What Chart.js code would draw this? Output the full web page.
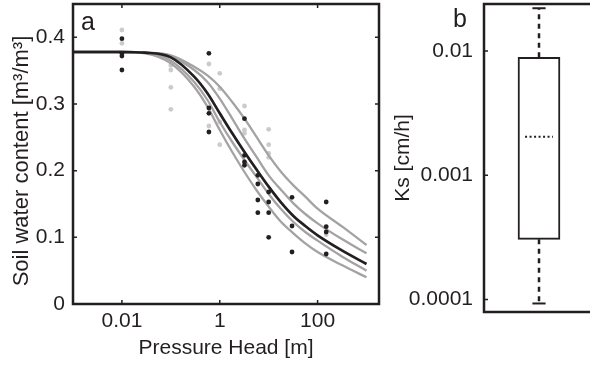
<!DOCTYPE html>
<html>
<head>
<meta charset="utf-8">
<script src="https://cdn.jsdelivr.net/npm/chart.js@4"></script>
<style>
  html, body { margin: 0; padding: 0; background: #fff; overflow: hidden; }
  #wrap { position: relative; width: 590px; height: 372px; overflow: hidden; }
  canvas { position: absolute; top: 0; }
  #chartA { left: 0; }
  #chartB { left: 385px; }
</style>
</head>
<body>
<div id="wrap">
  <canvas id="chartA" width="385" height="372"></canvas>
  <canvas id="chartB" width="215" height="372"></canvas>
</div>
<script>
// ---- panel a : water retention ----
const curveHead = [0.001, 0.01, 0.03, 0.1, 0.3, 0.56, 1, 1.8, 3.2, 5.6, 10, 18, 32, 56, 100, 320, 1000];
const fitMain = [0.378, 0.378, 0.377, 0.370, 0.341, 0.316, 0.286, 0.256, 0.228, 0.202, 0.176, 0.152, 0.132, 0.117, 0.103, 0.080, 0.060];
const fitGrayA = [0.378, 0.378, 0.377, 0.373, 0.356, 0.343, 0.326, 0.303, 0.278, 0.251, 0.223, 0.198, 0.178, 0.161, 0.143, 0.116, 0.0885];
const fitGrayB = [0.378, 0.378, 0.377, 0.371, 0.351, 0.333, 0.308, 0.278, 0.248, 0.221, 0.193, 0.171, 0.151, 0.135, 0.121, 0.097, 0.076];
const fitGrayC = [0.378, 0.378, 0.377, 0.365, 0.333, 0.306, 0.273, 0.243, 0.216, 0.191, 0.165, 0.142, 0.123, 0.108, 0.095, 0.071, 0.050];
const fitGrayD = [0.378, 0.378, 0.376, 0.361, 0.326, 0.296, 0.261, 0.228, 0.198, 0.171, 0.146, 0.123, 0.106, 0.091, 0.078, 0.058, 0.040];

const obsHeadDark = [0.01, 0.01, 0.01, 0.01, 0.6, 0.6, 0.6, 0.6, 3.2, 3.2, 3.2, 3.2, 6, 6, 6, 6, 10, 10, 10, 10, 30, 30, 30, 150, 150, 150, 150];
const obsThetaDark = [0.398, 0.376, 0.372, 0.351, 0.376, 0.294, 0.286, 0.258, 0.278, 0.223, 0.213, 0.208, 0.193, 0.180, 0.156, 0.137, 0.168, 0.153, 0.137, 0.100, 0.160, 0.117, 0.078, 0.153, 0.116, 0.108, 0.075];
const obsHeadLight = [0.01, 0.01, 0.1, 0.1, 0.1, 0.1, 0.6, 0.6, 1, 1, 1, 1, 3.2, 3.2, 3.2, 10, 10, 10, 10, 150];
const obsThetaLight = [0.411, 0.391, 0.358, 0.351, 0.325, 0.292, 0.360, 0.267, 0.346, 0.323, 0.273, 0.239, 0.297, 0.261, 0.256, 0.262, 0.239, 0.226, 0.220, 0.104];

const headTicks = [0.01, 1, 100];
const thetaTicks = [0, 0.1, 0.2, 0.3, 0.4];

// ---- panel b : Ks box plot ----
const ksLow = 0.000093;
const ksQ1 = 0.000305;
const ksMedian = 0.00204;
const ksQ3 = 0.0089;
const ksHigh = 0.0221;
const ksTicks = [0.0001, 0.001, 0.01];

const INK = '#231f20';
const GRAY = '#a3a3a3';
const LIGHT = '#cbcbcb';
const FONT = 'Liberation Sans, Arial, sans-serif';

const pts = (xs, ys) => xs.map((x, i) => ({x: x, y: ys[i]}));

// frame + inward tick marks + panel letter (+ optional rotated y title)
const framePlugin = {
  id: 'frame',
  afterDraw(chart, args, opts) {
    const {ctx, chartArea: a} = chart;
    ctx.save();
    ctx.strokeStyle = INK;
    ctx.lineWidth = 2.5;
    ctx.strokeRect(a.left, a.top, a.right - a.left, a.bottom - a.top);
    ctx.lineWidth = 1.5;
    Object.values(chart.scales).forEach(s => {
      if (!s.options.display) return;
      s.ticks.forEach(t => {
        const p = s.getPixelForValue(t.value);
        ctx.beginPath();
        if (s.isHorizontal()) {
          ctx.moveTo(p, a.bottom); ctx.lineTo(p, a.bottom - 4);
          ctx.moveTo(p, a.top); ctx.lineTo(p, a.top + 4);
        } else {
          ctx.moveTo(a.left, p); ctx.lineTo(a.left + 4, p);
          ctx.moveTo(a.right, p); ctx.lineTo(a.right - 4, p);
        }
        ctx.stroke();
      });
    });
    ctx.fillStyle = INK;
    ctx.font = '25px ' + FONT;
    ctx.textBaseline = 'alphabetic';
    ctx.fillText(opts.letter, opts.lx, opts.ly);
    if (opts.yTitle) {
      ctx.translate(opts.tx, opts.ty);
      ctx.rotate(-Math.PI / 2);
      ctx.font = opts.tSize + 'px ' + FONT;
      ctx.textAlign = 'center';
      ctx.textBaseline = 'middle';
      ctx.fillText(opts.yTitle, 0, 0);
    }
    ctx.restore();
  }
};

// keep tick labels from pushing the plot area around
const noPad = s => { s.paddingTop = 0; s.paddingBottom = 0; s.paddingLeft = 0; s.paddingRight = 0; };

const tickFont = {family: FONT, size: 21};

new Chart(document.getElementById('chartA'), {
  type: 'line',
  data: {
    datasets: [
      {type: 'scatter', data: pts(obsHeadDark, obsThetaDark), pointRadius: 2.4, pointBackgroundColor: INK, pointBorderWidth: 0, order: 0},
      {data: pts(curveHead, fitMain), borderColor: INK, borderWidth: 2.7, pointRadius: 0, cubicInterpolationMode: 'monotone', order: 1},
      {data: pts(curveHead, fitGrayA), borderColor: GRAY, borderWidth: 2.3, pointRadius: 0, cubicInterpolationMode: 'monotone', order: 2},
      {data: pts(curveHead, fitGrayB), borderColor: GRAY, borderWidth: 2.3, pointRadius: 0, cubicInterpolationMode: 'monotone', order: 2},
      {data: pts(curveHead, fitGrayC), borderColor: GRAY, borderWidth: 2.3, pointRadius: 0, cubicInterpolationMode: 'monotone', order: 2},
      {data: pts(curveHead, fitGrayD), borderColor: GRAY, borderWidth: 2.3, pointRadius: 0, cubicInterpolationMode: 'monotone', order: 2},
      {type: 'scatter', data: pts(obsHeadLight, obsThetaLight), pointRadius: 2.4, pointBackgroundColor: LIGHT, pointBorderWidth: 0, order: 3}
    ]
  },
  options: {
    responsive: false,
    animation: false,
    layout: {padding: {top: 4, right: 6, left: 0, bottom: 0}},
    plugins: {
      legend: {display: false},
      tooltip: {enabled: false},
      frame: {letter: 'a', lx: 81, ly: 30, yTitle: 'Soil water content [m³/m³]', tx: 22, ty: 161, tSize: 22}
    },
    scales: {
      x: {
        type: 'logarithmic',
        min: 0.001,
        max: 1800,
        grid: {display: false, drawTicks: false},
        border: {display: false},
        afterBuildTicks: s => { s.ticks = headTicks.map(v => ({value: v})); },
        afterFit: s => { s.height = 68; noPad(s); },
        ticks: {color: INK, font: tickFont, padding: 5, autoSkip: false, maxRotation: 0, callback: v => String(v)},
        title: {display: true, text: 'Pressure Head [m]', color: INK, font: tickFont, padding: {bottom: 11}}
      },
      y: {
        type: 'linear',
        min: 0,
        max: 0.45,
        grid: {display: false, drawTicks: false},
        border: {display: false},
        afterBuildTicks: s => { s.ticks = thetaTicks.map(v => ({value: v})); },
        afterFit: s => { s.width = 73; noPad(s); },
        ticks: {color: INK, font: tickFont, padding: 8, callback: v => String(v)}
      }
    }
  },
  plugins: [framePlugin]
});

new Chart(document.getElementById('chartB'), {
  type: 'line',
  data: {
    datasets: [
      {type: 'bar', data: [{x: 1, y: [ksQ1, ksQ3]}], backgroundColor: '#fff', borderColor: INK, borderWidth: 2, borderSkipped: false, barThickness: 42, order: 2},
      {data: [{x: 0.62, y: ksMedian}, {x: 1.38, y: ksMedian}], borderColor: INK, borderWidth: 2, borderDash: [2, 2.5], pointRadius: 0, order: 1},
      {data: [{x: 1, y: ksQ3}, {x: 1, y: ksHigh}], borderColor: INK, borderWidth: 2.5, borderDash: [5, 4.5], pointRadius: 0, order: 1},
      {data: [{x: 1, y: ksQ1}, {x: 1, y: ksLow}], borderColor: INK, borderWidth: 2.5, borderDash: [5, 4.5], pointRadius: 0, order: 1},
      {data: [{x: 0.82, y: ksHigh}, {x: 1.18, y: ksHigh}], borderColor: INK, borderWidth: 2, pointRadius: 0, order: 1},
      {data: [{x: 0.82, y: ksLow}, {x: 1.18, y: ksLow}], borderColor: INK, borderWidth: 2, pointRadius: 0, order: 1}
    ]
  },
  options: {
    responsive: false,
    animation: false,
    layout: {padding: {top: 4, right: 6, left: 0, bottom: 60}},
    plugins: {
      legend: {display: false},
      tooltip: {enabled: false},
      frame: {letter: 'b', lx: 68, ly: 27}
    },
    scales: {
      x: {type: 'linear', min: 0, max: 2, display: false},
      y: {
        type: 'logarithmic',
        min: 0.0000794,
        max: 0.0239,
        grid: {display: false, drawTicks: false},
        border: {display: false},
        afterBuildTicks: s => { s.ticks = ksTicks.map(v => ({value: v})); },
        afterFit: s => { s.width = 99; noPad(s); },
        ticks: {color: INK, font: tickFont, padding: 11, autoSkip: false, callback: v => String(v)},
        title: {display: true, text: 'Ks [cm/h]', color: INK, font: tickFont, padding: {top: 6}}
      }
    }
  },
  plugins: [framePlugin]
});
</script>
</body>
</html>
